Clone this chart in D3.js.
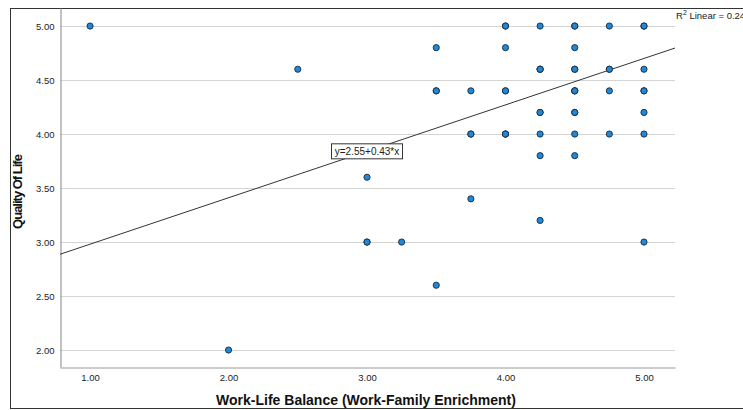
<!DOCTYPE html>
<html>
<head>
<meta charset="utf-8">
<script src="https://cdn.jsdelivr.net/npm/d3@7"></script>
<style>
  body { margin: 0; background: #fff; }
  svg { display: block; font-family: "Liberation Sans", Arial, sans-serif; }
</style>
</head>
<body>
<div id="chart-area"></div>
<script>
// scatter points: work-life balance (x) vs quality of life (y)
var wlb = [1.00, 2.00, 2.50, 3.00, 3.00, 3.00, 3.25,
  3.50, 3.50, 3.50, 3.50, 3.75, 3.75, 3.75, 3.75,
  4.00, 4.00, 4.00, 4.00, 4.00, 4.00, 4.00, 4.00,
  4.25, 4.25, 4.25, 4.25, 4.25, 4.25, 4.25, 4.25, 4.25,
  4.50, 4.50, 4.50, 4.50, 4.50, 4.50, 4.50, 4.50, 4.50, 4.50, 4.50, 4.50,
  4.75, 4.75, 4.75, 4.75, 4.75,
  5.00, 5.00, 5.00, 5.00, 5.00, 5.00, 5.00, 5.00];
var qol = [5.00, 2.00, 4.60, 3.60, 3.00, 3.00, 3.00,
  4.80, 4.40, 4.40, 2.60, 4.40, 4.00, 4.00, 3.40,
  5.00, 5.00, 4.80, 4.40, 4.40, 4.00, 4.00, 4.00,
  5.00, 4.60, 4.60, 4.20, 4.20, 4.00, 3.80, 3.20, 4.60,
  5.00, 5.00, 4.80, 4.60, 4.60, 4.40, 4.40, 4.20, 4.20, 4.00, 3.80, 4.40,
  5.00, 4.60, 4.60, 4.40, 4.00,
  5.00, 5.00, 4.60, 4.40, 4.40, 4.20, 4.00, 3.00];

var xTicks = [1, 2, 3, 4, 5];
var yTicks = [2.0, 2.5, 3.0, 3.5, 4.0, 4.5, 5.0];

// fit line reported by SPSS
var intercept = 2.55;
var slope = 0.43;
var r2Label = "Linear = 0.24";

var width = 743, height = 410;

var svg = d3.select("#chart-area").append("svg")
  .attr("width", width)
  .attr("height", height);

// outer frame
svg.append("rect")
  .attr("x", 10.5).attr("y", 8.5)
  .attr("width", 760).attr("height", 400)
  .attr("fill", "none")
  .attr("stroke", "#333")
  .attr("stroke-width", 1);

var x = d3.scaleLinear().domain([0.783, 5.224]).range([60, 675]);
var y = d3.scaleLinear().domain([1.843, 5.167]).range([367, 8]);

// horizontal grid lines
svg.append("g")
  .selectAll("line")
  .data(yTicks)
  .join("line")
    .attr("x1", x.range()[0])
    .attr("x2", x.range()[1])
    .attr("y1", d => Math.round(y(d)) + 0.5)
    .attr("y2", d => Math.round(y(d)) + 0.5)
    .attr("stroke", "#d4d4d4")
    .attr("stroke-width", 1.2);

// axes
var yAxis = svg.append("g")
  .attr("transform", "translate(60.5,0)")
  .call(d3.axisLeft(y).tickValues(yTicks).tickFormat(d3.format(".2f")).tickSize(0).tickPadding(6));
var xAxis = svg.append("g")
  .attr("transform", "translate(0,367.5)")
  .call(d3.axisBottom(x).tickValues(xTicks).tickFormat(d3.format(".2f")).tickSize(0).tickPadding(7));

[xAxis, yAxis].forEach(function(g) {
  g.select(".domain").attr("stroke", "#999").attr("stroke-width", 1.2);
  g.selectAll(".tick text").attr("fill", "#222").style("font-size", "9.5px");
});

// regression line
svg.append("line")
  .attr("x1", x(x.domain()[0]))
  .attr("y1", y(intercept + slope * x.domain()[0]))
  .attr("x2", x(x.domain()[1]))
  .attr("y2", y(intercept + slope * x.domain()[1]))
  .attr("stroke", "#333")
  .attr("stroke-width", 1);

// points
svg.append("g")
  .selectAll("circle")
  .data(d3.range(wlb.length))
  .join("circle")
    .attr("cx", i => x(wlb[i]))
    .attr("cy", i => y(qol[i]))
    .attr("r", 3.1)
    .attr("fill", "#1f88d8")
    .attr("stroke", "#1c2a3a")
    .attr("stroke-width", 0.9);

// equation label
var eqX = 3.0;
var eq = svg.append("g")
  .attr("transform", "translate(" + x(eqX) + "," + y(intercept + slope * eqX) + ")");
eq.append("rect")
  .attr("x", -35.5).attr("y", -7.5)
  .attr("width", 71).attr("height", 15)
  .attr("fill", "#fff")
  .attr("stroke", "#333");
eq.append("text")
  .attr("text-anchor", "middle")
  .attr("dy", "0.35em")
  .style("font-size", "10px")
  .attr("fill", "#222")
  .text("y=" + intercept.toFixed(2) + "+" + slope.toFixed(2) + "*x");

// R squared label (runs off the right edge, as in the original)
var r2 = svg.append("text")
  .attr("x", 676).attr("y", 19)
  .style("font-size", "9.5px")
  .attr("fill", "#222");
r2.append("tspan").text("R");
r2.append("tspan").attr("dy", -4).style("font-size", "7px").text("2");
r2.append("tspan").attr("dy", 4).text(" " + r2Label);

// axis titles
svg.append("text")
  .attr("x", 366).attr("y", 405)
  .attr("text-anchor", "middle")
  .style("font-size", "14px")
  .style("font-weight", "bold")
  .attr("fill", "#111")
  .text("Work-Life Balance (Work-Family Enrichment)");

svg.append("text")
  .attr("transform", "translate(22,192) rotate(-90)")
  .attr("text-anchor", "middle")
  .style("font-size", "13px")
  .style("font-weight", "bold")
  .style("letter-spacing", "-1px")
  .attr("fill", "#111")
  .text("Quality Of Life");
</script>
</body>
</html>
